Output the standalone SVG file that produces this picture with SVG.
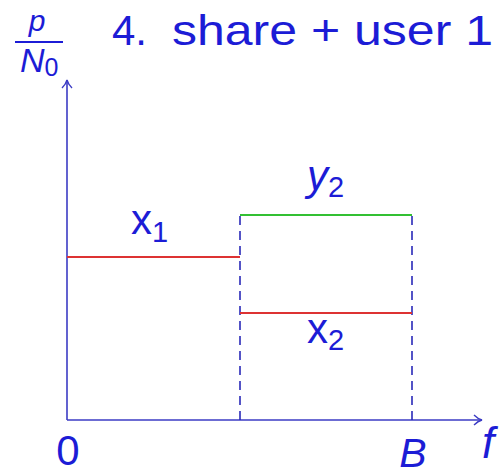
<svg xmlns="http://www.w3.org/2000/svg" width="499" height="475" viewBox="0 0 499 475">
<style>
text{font-family:"Liberation Sans",Arial,sans-serif;fill:#1c1cd6}
.it{font-style:italic}
.ax{stroke:#3b3bc4;stroke-width:1.6;fill:none}
.dash{stroke:#2a2ab8;stroke-width:1.6;stroke-dasharray:9,6;fill:none}
.red{stroke:#dd3333;stroke-width:2}
.green{stroke:#33c033;stroke-width:2}
</style>
<defs>
<marker id="ah" markerWidth="12" markerHeight="12" refX="10" refY="6" orient="auto" markerUnits="userSpaceOnUse">
<path d="M2,1 Q6,5 10,6 Q6,7 2,11" fill="none" stroke="#3b3bc4" stroke-width="1.4"/>
</marker>
</defs>
<g id="title"><text x="112" y="45" font-size="42">4.</text><text x="172" y="45" font-size="42" textLength="321" lengthAdjust="spacingAndGlyphs">share + user 1</text></g>
<g id="ylabel">
<text x="37" y="31" font-size="30" class="it" text-anchor="middle">p</text>
<line x1="15" y1="42" x2="63" y2="42" stroke="#1c1cd6" stroke-width="2"/>
<text x="20" y="72" font-size="34" class="it">N<tspan font-size="25" font-style="normal" dy="4">0</tspan></text>
</g>
<g id="connectors">
<line class="ax" x1="67" y1="420" x2="67" y2="80" marker-end="url(#ah)"/>
<line class="ax" x1="67" y1="420" x2="482" y2="420" marker-end="url(#ah)"/>
<line class="dash" x1="240" y1="216" x2="240" y2="420"/>
<line class="dash" x1="412" y1="216" x2="412" y2="420"/>
<line class="red" x1="67" y1="257" x2="240" y2="257"/>
<line class="red" x1="240" y1="313" x2="412" y2="313"/>
<line class="green" x1="240" y1="215" x2="412" y2="215"/>
</g>
<g id="x1"><text x="131" y="234" font-size="42">x<tspan font-size="29" dy="8">1</tspan></text></g>
<g id="y2"><text x="307" y="190" font-size="42" class="it">y<tspan font-size="29" font-style="normal" dy="7">2</tspan></text></g>
<g id="x2"><text x="307" y="343" font-size="42">x<tspan font-size="29" dy="7">2</tspan></text></g>
<g id="zero"><text x="68" y="465" font-size="42" text-anchor="middle">0</text></g>
<g id="B"><text x="413" y="467" font-size="41" class="it" text-anchor="middle">B</text></g>
<g id="f"><text x="482" y="458" font-size="44" class="it">f</text></g>
</svg>
